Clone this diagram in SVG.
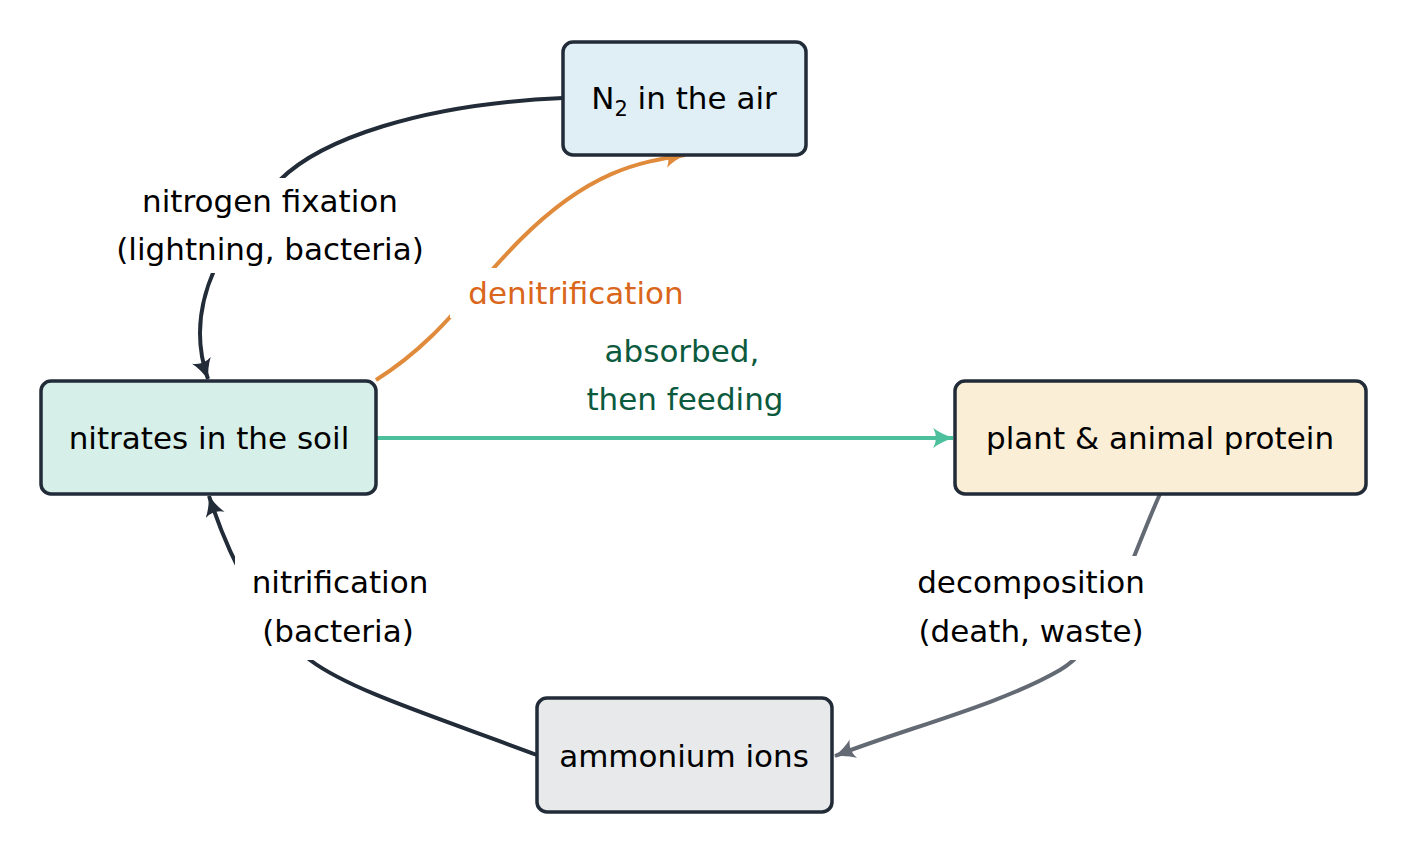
<svg xmlns="http://www.w3.org/2000/svg" width="1409" height="855" viewBox="0 0 1409 855">
<style>
.box{stroke:#222b38;stroke-width:3.5}
text{font-family:"DejaVu Sans",sans-serif;font-size:31px;text-anchor:middle}
.c{fill:none;stroke-width:4}
.lb{fill:#fff}
</style>
<defs>
<marker id="mD" viewBox="0 0 20 18" refX="18" refY="9" markerWidth="22" markerHeight="20" orient="auto" markerUnits="userSpaceOnUse"><path d="M0,0 Q8,6 19,9 Q8,12 0,18 Q5,9 0,0 z" fill="#222b38"/></marker>
<marker id="mO" viewBox="0 0 20 18" refX="18" refY="9" markerWidth="22" markerHeight="20" orient="auto" markerUnits="userSpaceOnUse"><path d="M0,0 Q8,6 19,9 Q8,12 0,18 Q5,9 0,0 z" fill="#e08a3c"/></marker>
<marker id="mG" viewBox="0 0 20 18" refX="18" refY="9" markerWidth="22" markerHeight="20" orient="auto" markerUnits="userSpaceOnUse"><path d="M0,0 Q8,6 19,9 Q8,12 0,18 Q5,9 0,0 z" fill="#4cbf9c"/></marker>
<marker id="mY" viewBox="0 0 20 18" refX="18" refY="9" markerWidth="22" markerHeight="20" orient="auto" markerUnits="userSpaceOnUse"><path d="M0,0 Q8,6 19,9 Q8,12 0,18 Q5,9 0,0 z" fill="#646a73"/></marker>
</defs>
<rect width="1409" height="855" fill="#fff"/>
<g id="connectors">
<path class="c" stroke="#222b38" marker-end="url(#mD)" d="M563,98 C420,104 320,140 280,180 C230,230 180,300 208,379"/>
<path class="c" stroke="#e08a3c" marker-end="url(#mO)" d="M376,380 C440,340 470,290 520,240 C590,170 640,162 685,155"/>
<path class="c" stroke="#4cbf9c" marker-end="url(#mG)" d="M376,438 L953,438"/>
<path class="c" stroke="#646a73" marker-end="url(#mY)" d="M1160,494 C1130,560 1110,640 1060,670 C1000,705 900,730 835,756"/>
<path class="c" stroke="#222b38" marker-end="url(#mD)" d="M537,755 C430,715 350,690 310,660 C260,620 230,560 209,496"/>
<rect class="lb" x="95" y="178" width="350" height="95"/>
<rect class="lb" x="450" y="268" width="250" height="50"/>
<rect class="lb" x="235" y="556" width="210" height="104"/>
<rect class="lb" x="895" y="556" width="270" height="104"/>
<text x="270" y="212">nitrogen fixation</text>
<text x="270" y="260">(lightning, bacteria)</text>
<text x="576" y="304" fill="#d9661a">denitrification</text>
<text x="682" y="362" fill="#0b5a3e">absorbed,</text>
<text x="685" y="410" fill="#0b5a3e">then feeding</text>
<text x="340" y="593">nitrification</text>
<text x="338" y="642">(bacteria)</text>
<text x="1031" y="593">decomposition</text>
<text x="1031" y="642">(death, waste)</text>
</g>
<g id="n2"><rect class="box" x="563" y="42" width="243" height="113" rx="10" fill="#e0eff6"/><text x="684" y="109">N<tspan font-size="21" dy="7">2</tspan><tspan dy="-7"> in the air</tspan></text></g>
<g id="nitrates"><rect class="box" x="41" y="381" width="335" height="113" rx="10" fill="#d6efe8"/><text x="209" y="449">nitrates in the soil</text></g>
<g id="protein"><rect class="box" x="955" y="381" width="411" height="113" rx="10" fill="#faeed6"/><text x="1160" y="449">plant &amp; animal protein</text></g>
<g id="ammonium"><rect class="box" x="537" y="698" width="295" height="114" rx="10" fill="#e8e9eb"/><text x="684" y="767">ammonium ions</text></g>
</svg>
